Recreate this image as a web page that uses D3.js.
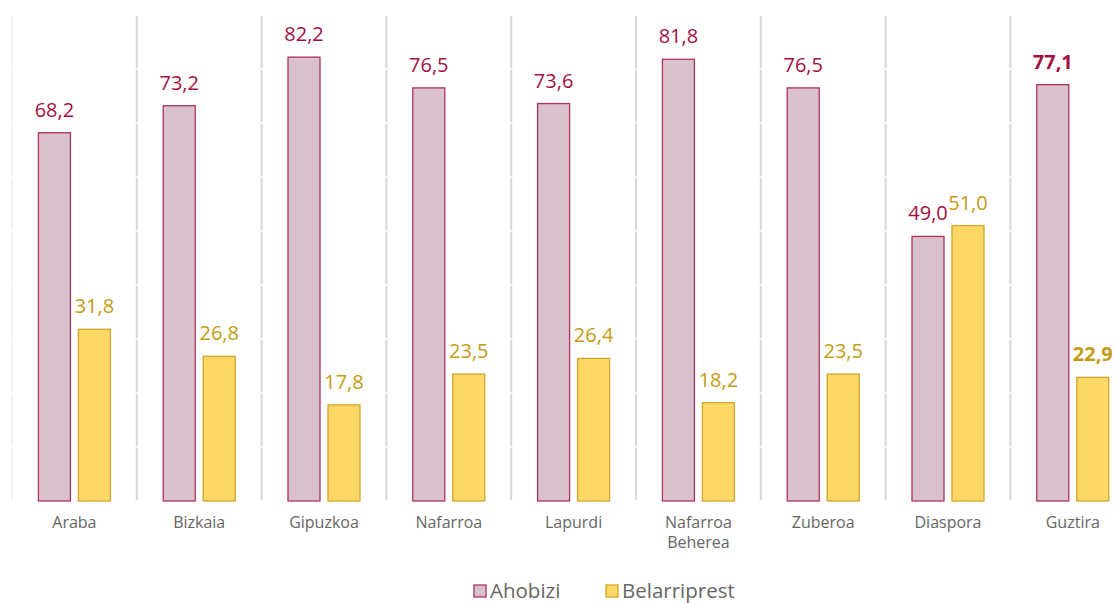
<!DOCTYPE html>
<html>
<head>
<meta charset="utf-8">
<script src="https://cdn.jsdelivr.net/npm/d3@7"></script>
<style>
  body { margin: 0; background: #fff; }
  svg { display: block; font-family: "Open Sans", "Lato", sans-serif; }
</style>
</head>
<body>
<svg width="1117" height="603"></svg>
<script>
// data
var categories = ["Araba", "Bizkaia", "Gipuzkoa", "Nafarroa", "Lapurdi", "Nafarroa\nBeherea", "Zuberoa", "Diaspora", "Guztira"]
var ahobizi = [68.2, 73.2, 82.2, 76.5, 73.6, 81.8, 76.5, 49.0, 77.1]
var belarriprest = [31.8, 26.8, 17.8, 23.5, 26.4, 18.2, 23.5, 51.0, 22.9]
var seriesNames = ["Ahobizi", "Belarriprest"]
var yTicks = [0, 10, 20, 30, 40, 50, 60, 70, 80, 90]

var svg = d3.select("svg")

var styles = [
  { fill: "#d9c1cd", stroke: "#b0305e", text: "#a50f42" },
  { fill: "#fdd866", stroke: "#cfa62a", text: "#c49b12" }
]

// plot area runs past the right edge like the original
var x = d3.scaleBand().domain(categories).range([12, 1135.2])
var y = d3.scaleLinear().domain([0, 90]).range([501, 15])
var inner = d3.scaleBand().domain(seriesNames).range([0, 72]).paddingInner(0.2)

var grid = svg.append("g")

// vertical separators between categories
var seps = d3.range(categories.length + 1).map(function (i) { return 12 + i * x.step() })
grid.selectAll(".sep")
  .data(seps)
  .enter().append("line")
  .attr("x1", d => d).attr("x2", d => d)
  .attr("y1", y(90) + 1).attr("y2", y(0))
  .attr("stroke", (d, i) => i === 0 ? "#f1f1f1" : "#d9d9d9")
  .attr("stroke-width", 2)

// white horizontal gridlines cutting through them
grid.selectAll(".hg")
  .data(yTicks)
  .enter().append("line")
  .attr("x1", 0).attr("x2", 1117)
  .attr("y1", d => y(d)).attr("y2", d => y(d))
  .attr("stroke", "#fff")
  .attr("stroke-width", 1.5)

var rows = categories.map(function (c, i) {
  return { cat: c, vals: [ahobizi[i], belarriprest[i]], last: i === categories.length - 1 }
})

var groups = svg.selectAll(".grp")
  .data(rows)
  .enter().append("g")
  .attr("transform", d => "translate(" + (x(d.cat) + x.bandwidth() / 2 - 36) + ",0)")

groups.selectAll("rect")
  .data(d => d.vals.map((v, j) => ({ v: v, s: j, last: d.last })))
  .enter().append("rect")
  .attr("x", d => inner(seriesNames[d.s]))
  .attr("width", inner.bandwidth())
  .attr("y", d => y(d.v))
  .attr("height", d => y(0) - y(d.v))
  .attr("fill", d => styles[d.s].fill)
  .attr("stroke", d => styles[d.s].stroke)
  .attr("stroke-width", 1.3)

groups.selectAll(".val")
  .data(d => d.vals.map((v, j) => ({ v: v, s: j, last: d.last })))
  .enter().append("text")
  .attr("x", d => inner(seriesNames[d.s]) + inner.bandwidth() / 2)
  .attr("y", d => y(d.v) - 16)
  .attr("text-anchor", "middle")
  .attr("fill", d => styles[d.s].text)
  .attr("font-size", 20)
  .attr("font-weight", d => d.last ? "bold" : "normal")
  .text(d => d.v.toFixed(1).replace(".", ","))

// category labels
var catLabels = svg.selectAll(".cat")
  .data(categories)
  .enter().append("text")
  .attr("x", d => x(d) + x.bandwidth() / 2)
  .attr("y", 528)
  .attr("text-anchor", "middle")
  .attr("fill", "#666")
  .attr("font-size", 16)

catLabels.selectAll("tspan")
  .data(d => d.split("\n"))
  .enter().append("tspan")
  .attr("x", function () { return d3.select(this.parentNode).attr("x") })
  .attr("dy", (d, i) => i === 0 ? 0 : 20)
  .text(d => d)

// legend
var legendX = [474, 606]
var legend = svg.selectAll(".leg")
  .data(seriesNames)
  .enter().append("g")
  .attr("transform", (d, i) => "translate(" + legendX[i] + ",585)")

legend.append("rect")
  .attr("width", 12).attr("height", 12)
  .attr("fill", (d, i) => styles[i].fill)
  .attr("stroke", (d, i) => styles[i].stroke)
  .attr("stroke-width", 1.3)

legend.append("text")
  .attr("x", 16)
  .attr("y", 13)
  .attr("fill", "#666")
  .attr("font-size", 20.5)
  .text(d => d)
</script>
</body>
</html>
